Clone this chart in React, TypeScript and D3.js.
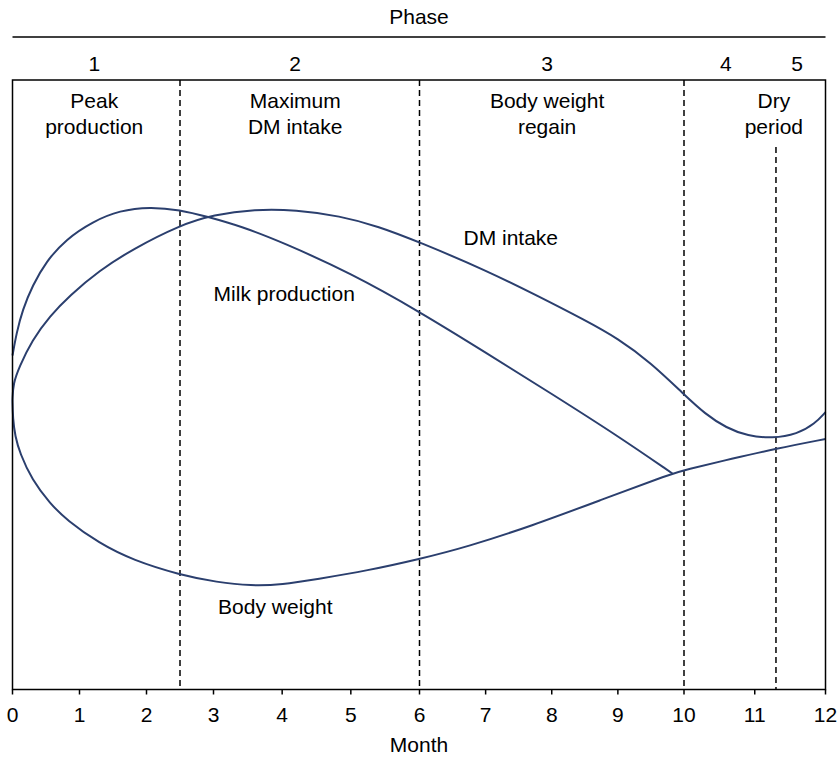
import React from "react";
import * as d3 from "d3";

// ---- Data ----
const monthTicks = [0, 1, 2, 3, 4, 5, 6, 7, 8, 9, 10, 11, 12];
const phaseBoundaries = [2.5, 6, 10, 11.3];
const phaseNumbers = ["1", "2", "3", "4", "5"];
const phaseNumberMonths = [1.22, 4.19, 7.93, 10.59, 11.6];
const phaseNames = [["Peak", "production"], ["Maximum", "DM intake"], ["Body weight", "regain"], ["Dry", "period"]];
const phaseNameMonths = [1.22, 4.19, 7.93, 11.27];

const milkMonths = [0, 0.06, 0.15, 0.3, 0.5, 0.8, 1.2, 1.6, 2.05, 2.5, 2.9, 3.4, 4.0, 5.0, 6.0, 7.0, 8.0, 9.0, 9.83];
const milkValues = [54.8, 58.5, 62.3, 66.3, 70.2, 73.9, 76.8, 78.6, 79.2, 78.7, 77.6, 76.0, 73.4, 68.3, 62.0, 55.3, 48.5, 41.6, 35.4];

const dmMonths = [0, 0.01, 0.1, 0.29, 0.56, 0.85, 1.29, 1.8, 2.5, 3.0, 3.6, 4.2, 4.84, 5.4, 6.0, 7.0, 7.8, 8.5, 9.0, 9.5, 10.0, 10.3, 10.6, 10.9, 11.25, 11.6, 11.85, 12.0];
const dmValues = [47.5, 50.2, 52.9, 57.3, 61.3, 64.6, 68.7, 72.3, 76.2, 77.9, 78.8, 78.7, 77.7, 76.0, 73.4, 68.8, 64.5, 60.6, 57.6, 53.6, 48.4, 45.2, 42.9, 41.6, 41.2, 41.9, 43.6, 45.5];

const bwMonths = [0, 0.005, 0.04, 0.11, 0.29, 0.56, 0.81, 1.29, 1.8, 2.5, 3.05, 3.55, 4.0, 4.5, 5.24, 6.0, 6.72, 7.71, 8.72, 9.83, 10.0, 10.69, 11.29, 12.0];
const bwValues = [47.5, 44.5, 41.5, 38.8, 34.4, 30.5, 27.8, 24.0, 21.2, 18.8, 17.6, 17.0, 17.2, 18.1, 19.5, 21.4, 23.4, 26.9, 31.0, 35.5, 36.0, 37.9, 39.5, 41.1];

const curveLabels = [
  { text: "DM intake", month: 7.38, value: 73.8 },
  { text: "Milk production", month: 4.03, value: 64.7 },
  { text: "Body weight", month: 3.9, value: 13.3 },
];

const W = 839;
const H = 757;
const FONT = "'Liberation Sans', Arial, Helvetica, sans-serif";
const FS = 21;
const CURVE = "#2b3f6e";

export default function App() {
  const left = 12.5;
  const right = 825.5;
  const top = 80;
  const bottom = 689.5;

  const x = d3.scaleLinear().domain([0, 3, 6, 10, 12]).range([left, 213.5, 419.5, 684, right]);
  const y = d3.scaleLinear().domain([0, 100]).range([bottom, top]);

  const line = d3
    .line<[number, number]>()
    .x((d) => x(d[0]))
    .y((d) => y(d[1]))
    .curve(d3.curveBasis);

  const series = [
    milkMonths.map((m, i) => [m, milkValues[i]] as [number, number]),
    dmMonths.map((m, i) => [m, dmValues[i]] as [number, number]),
    bwMonths.map((m, i) => [m, bwValues[i]] as [number, number]),
  ];

  return (
    <svg width={W} height={H} style={{ position: "absolute", left: 0, top: 0, background: "#fff" }} fontFamily={FONT}>
      <rect x={0} y={0} width={W} height={H} fill="#fff" />
      {/* Phase header */}
      <text x={(left + right) / 2} y={24} textAnchor="middle" fontSize={FS} fill="#000">Phase</text>
      <line x1={left} x2={right} y1={37} y2={37} stroke="#000" strokeWidth={1.5} />
      {phaseNumbers.map((p, i) => (
        <text key={p} x={x(phaseNumberMonths[i])} y={71} textAnchor="middle" fontSize={FS} fill="#000">{p}</text>
      ))}

      {/* Phase boundaries */}
      {phaseBoundaries.map((b, i) => (
        <line
          key={b}
          x1={x(b)}
          x2={x(b)}
          y1={i === 3 ? 147 : top}
          y2={bottom}
          stroke="#000"
          strokeWidth={1.5}
          strokeDasharray="6,4"
        />
      ))}

      {phaseNames.map((lines, i) => (
        <text key={i} x={x(phaseNameMonths[i])} textAnchor="middle" fontSize={FS} fill="#000">
          <tspan x={x(phaseNameMonths[i])} y={108}>{lines[0]}</tspan>
          <tspan x={x(phaseNameMonths[i])} y={134}>{lines[1]}</tspan>
        </text>
      ))}

      {/* Curves */}
      {series.map((s, i) => (
        <path key={i} d={line(s) || ""} fill="none" stroke={CURVE} strokeWidth={2} />
      ))}

      {curveLabels.map((l) => (
        <text key={l.text} x={x(l.month)} y={y(l.value)} textAnchor="middle" fontSize={FS} fill="#000" dominantBaseline="middle">
          {l.text}
        </text>
      ))}

      {/* Frame */}
      <rect x={left} y={top} width={right - left} height={bottom - top} fill="none" stroke="#000" strokeWidth={1.5} />

      {/* X axis ticks */}
      {monthTicks.map((t) => (
        <g key={t}>
          <line x1={x(t)} x2={x(t)} y1={bottom} y2={bottom + 5} stroke="#000" strokeWidth={1.5} />
          <text x={x(t)} y={722} textAnchor="middle" fontSize={FS} fill="#000">{t}</text>
        </g>
      ))}
      <text x={(left + right) / 2} y={752} textAnchor="middle" fontSize={FS} fill="#000">Month</text>
    </svg>
  );
}
